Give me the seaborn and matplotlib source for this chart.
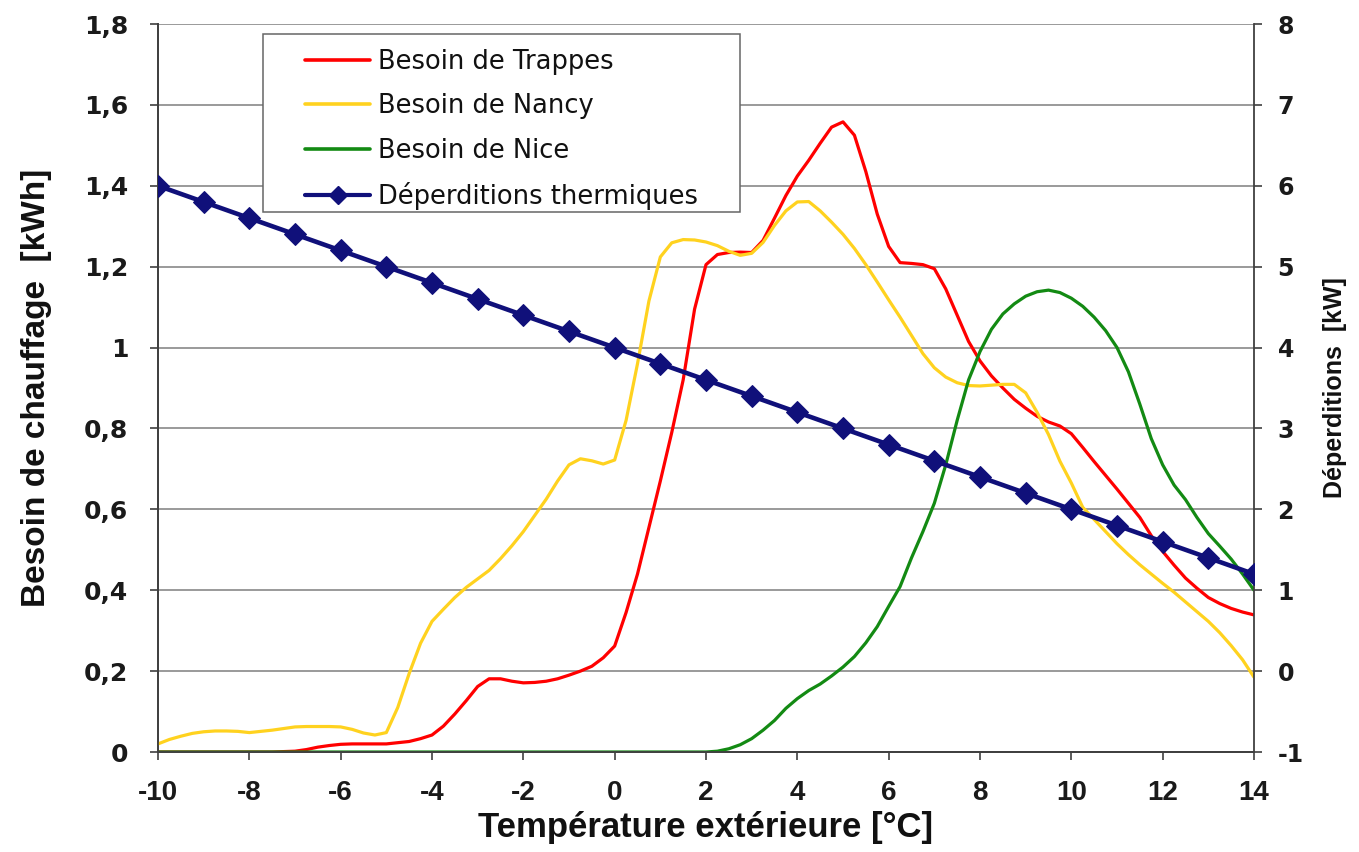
import matplotlib
matplotlib.use("Agg")
import matplotlib.pyplot as plt
import seaborn as sns
import pandas as pd
from matplotlib.lines import Line2D
from matplotlib.patches import Rectangle

# ---------------- data ----------------
temperature = [
    -10, -9.75, -9.5, -9.25, -9, -8.75, -8.5, -8.25, -8, -7.75, -7.5, -7.25,
    -7, -6.75, -6.5, -6.25, -6, -5.75, -5.5, -5.25, -5, -4.75, -4.5, -4.25,
    -4, -3.75, -3.5, -3.25, -3, -2.75, -2.5, -2.25, -2, -1.75, -1.5, -1.25,
    -1, -0.75, -0.5, -0.25, 0, 0.25, 0.5, 0.75, 1, 1.25, 1.5, 1.75,
    2, 2.25, 2.5, 2.75, 3, 3.25, 3.5, 3.75, 4, 4.25, 4.5, 4.75,
    5, 5.25, 5.5, 5.75, 6, 6.25, 6.5, 6.75, 7, 7.25, 7.5, 7.75,
    8, 8.25, 8.5, 8.75, 9, 9.25, 9.5, 9.75, 10, 10.25, 10.5, 10.75,
    11, 11.25, 11.5, 11.75, 12, 12.25, 12.5, 12.75, 13, 13.25, 13.5, 13.75, 14]

besoin_trappes = [
    0, 0, 0, 0, 0, 0, 0, 0, 0, 0, 0, 0.001,
    0.002, 0.006, 0.012, 0.016, 0.019, 0.02, 0.02, 0.02, 0.02, 0.023, 0.026, 0.033,
    0.042, 0.064, 0.094, 0.127, 0.162, 0.181, 0.181, 0.175, 0.171, 0.172, 0.175, 0.181,
    0.19, 0.20, 0.212, 0.233, 0.262, 0.345, 0.44, 0.555, 0.67, 0.79, 0.92, 1.095,
    1.205, 1.23, 1.235, 1.236, 1.235, 1.265, 1.32, 1.376, 1.424, 1.463, 1.505, 1.545,
    1.558, 1.525, 1.435, 1.33, 1.25, 1.21, 1.208, 1.205, 1.195, 1.145, 1.08, 1.015,
    0.967, 0.93, 0.90, 0.872, 0.85, 0.83, 0.816, 0.806, 0.787, 0.753, 0.718, 0.684,
    0.65, 0.615, 0.58, 0.535, 0.496, 0.462, 0.43, 0.405, 0.382, 0.367, 0.355, 0.346, 0.339]

besoin_nancy = [
    0.02, 0.031, 0.039, 0.046, 0.05, 0.052, 0.052, 0.051, 0.048, 0.051, 0.054, 0.058,
    0.062, 0.063, 0.063, 0.063, 0.062, 0.056, 0.047, 0.042, 0.048, 0.11, 0.194, 0.269,
    0.323, 0.353, 0.382, 0.407, 0.428, 0.449, 0.478, 0.51, 0.545, 0.585, 0.625, 0.67,
    0.71, 0.725, 0.72, 0.712, 0.722, 0.82, 0.96, 1.115, 1.224, 1.259, 1.267, 1.266,
    1.261, 1.252, 1.238, 1.228, 1.233, 1.26, 1.302, 1.338, 1.36, 1.361, 1.338, 1.31,
    1.28, 1.245, 1.205, 1.162, 1.118, 1.075, 1.03, 0.985, 0.95, 0.927, 0.913, 0.906,
    0.905, 0.907, 0.909, 0.909, 0.888, 0.84, 0.785, 0.719, 0.665, 0.605, 0.575, 0.545,
    0.515, 0.488, 0.463, 0.44, 0.417, 0.395, 0.371, 0.347, 0.323, 0.295, 0.263, 0.228, 0.185]

besoin_nice = [
    0, 0, 0, 0, 0, 0, 0, 0, 0, 0, 0, 0,
    0, 0, 0, 0, 0, 0, 0, 0, 0, 0, 0, 0,
    0, 0, 0, 0, 0, 0, 0, 0, 0, 0, 0, 0,
    0, 0, 0, 0, 0, 0, 0, 0, 0, 0, 0, 0,
    0, 0.002, 0.008, 0.018, 0.033, 0.054, 0.078, 0.108, 0.132, 0.152, 0.168, 0.188,
    0.21, 0.236, 0.27, 0.31, 0.36, 0.409, 0.48, 0.545, 0.615, 0.71, 0.82, 0.92,
    0.99, 1.045, 1.083, 1.108, 1.127, 1.138, 1.142, 1.136, 1.122, 1.102, 1.075, 1.042,
    1.0, 0.94, 0.86, 0.775, 0.71, 0.66, 0.624, 0.58, 0.54, 0.509, 0.477, 0.44, 0.40]

temperature_int = [-10, -9, -8, -7, -6, -5, -4, -3, -2, -1, 0, 1, 2, 3, 4, 5, 6, 7, 8,
                   9, 10, 11, 12, 13, 14]
deperditions = [6.0, 5.8, 5.6, 5.4, 5.2, 5.0, 4.8, 4.6, 4.4, 4.2, 4.0, 3.8, 3.6, 3.4,
                3.2, 3.0, 2.8, 2.6, 2.4, 2.2, 2.0, 1.8, 1.6, 1.4, 1.2]

series_names = ["Besoin de Trappes", "Besoin de Nancy", "Besoin de Nice",
                "Déperditions thermiques"]
x_ticks = [-10, -8, -6, -4, -2, 0, 2, 4, 6, 8, 10, 12, 14]
left_ticks = [0, 0.2, 0.4, 0.6, 0.8, 1.0, 1.2, 1.4, 1.6, 1.8]
left_tick_labels = ["0", "0,2", "0,4", "0,6", "0,8", "1", "1,2", "1,4", "1,6", "1,8"]
right_ticks = [-1, 0, 1, 2, 3, 4, 5, 6, 7, 8]
right_tick_labels = ["-1", "0", "1", "2", "3", "4", "5", "6", "7", "8"]

# ---------------- style ----------------
sns.set_theme(style="white")
plt.rcParams["font.family"] = ["Liberation Sans", "DejaVu Sans"]

colors = ["#FF0000", "#FFD21F", "#138A13", "#10107A"]

df = pd.DataFrame({"T": temperature, series_names[0]: besoin_trappes,
                   series_names[1]: besoin_nancy, series_names[2]: besoin_nice})
df_dep = pd.DataFrame({"T": temperature_int, "D": deperditions})

fig = plt.figure(figsize=(13.59, 8.52), dpi=100)
ax = fig.add_axes([158 / 1359, 1 - 752 / 852, 1096 / 1359, 728 / 852])

for name, c in zip(series_names[:3], colors[:3]):
    sns.lineplot(data=df, x="T", y=name, ax=ax, color=c, linewidth=2.3,
                 legend=False, zorder=3)

ax.set_xlim(-10, 14)
ax.set_ylim(0, 1.8)
ax.set_xticks(x_ticks)
ax.set_xticklabels([str(v) for v in x_ticks])
ax.set_yticks(left_ticks)
ax.set_yticklabels(left_tick_labels)
ax.yaxis.grid(True, color="#7f7f7f", linewidth=1.1)
ax.xaxis.grid(False)
ax.set_axisbelow(True)

ax2 = ax.twinx()
sns.lineplot(data=df_dep, x="T", y="D", ax=ax2, color=colors[3], linewidth=3.3,
             marker="D", markersize=11, markeredgecolor=colors[3], legend=False,
             zorder=4)
ax2.set_ylim(-1, 8)
ax2.set_yticks(right_ticks)
ax2.set_yticklabels(right_tick_labels)

for a in (ax, ax2):
    a.spines["top"].set_visible(False)
    for s in ("left", "right", "bottom"):
        a.spines[s].set_color("#404040")
        a.spines[s].set_linewidth(1.3)
ax.spines["right"].set_visible(False)

ax.tick_params(axis="y", which="major", direction="out", length=6, width=1.2,
               color="#404040", pad=15.5, labelsize=18)
ax.tick_params(axis="x", which="major", direction="out", length=6, width=1.2,
               color="#404040", pad=14, labelsize=20, bottom=True)
ax2.tick_params(axis="y", which="major", direction="out", length=6, width=1.2,
                color="#404040", pad=11, labelsize=17, right=True)

for lbl in ax.get_yticklabels() + ax2.get_yticklabels():
    lbl.set_fontweight("bold")
    lbl.set_family(["DejaVu Sans"])
    lbl.set_color("#1a1a1a")
for lbl in ax.get_xticklabels():
    lbl.set_fontweight("bold")
    lbl.set_color("#1a1a1a")

ax.set_xlabel("Température extérieure [°C]", fontsize=25, fontweight="bold",
              labelpad=4, color="#111111")
ax.set_ylabel("Besoin de chauffage  [kWh]", fontsize=24, fontweight="bold",
              labelpad=23, color="#111111")
ax2.set_ylabel("Déperditions  [kW]", fontsize=18, fontweight="bold",
               labelpad=14, color="#111111")

# legend box (white, covering the grid) and entries
box = Rectangle((0.0958, 0.7418), 0.4352, 0.2445, transform=ax2.transAxes,
                facecolor="white", edgecolor="#666666", linewidth=1.1, zorder=8)
ax2.add_patch(box)

handles = [Line2D([], [], color=c, linewidth=2.6) for c in colors[:3]]
handles.append(Line2D([], [], color=colors[3], linewidth=3, marker="D",
                      markersize=9))
leg = ax2.legend(handles, series_names, loc="upper left",
                 bbox_to_anchor=(0.1341, 0.9660), borderaxespad=0,
                 frameon=False, prop={"family": "DejaVu Sans", "size": 18.5},
                 handlelength=2.55, handletextpad=0.3,
                 labelspacing=0.72, borderpad=0)
leg.set_zorder(10)
for t in leg.get_texts():
    t.set_color("#111111")

fig.savefig("out.png", dpi=100, facecolor="white")
